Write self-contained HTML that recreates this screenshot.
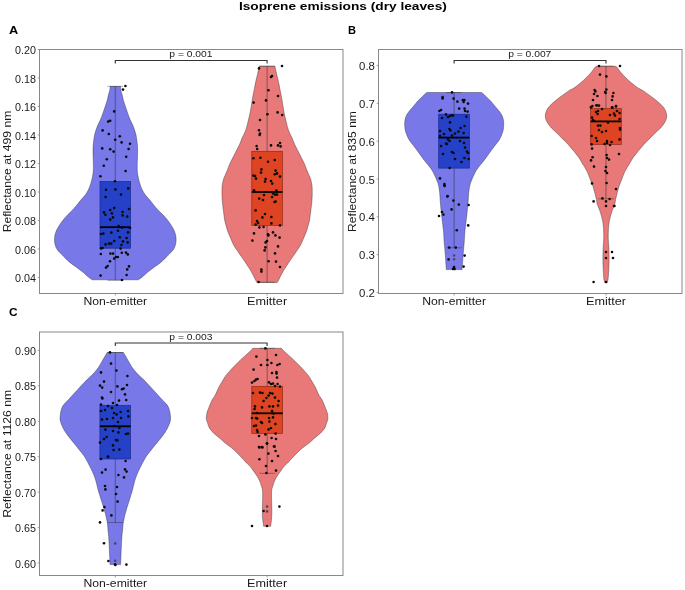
<!DOCTYPE html><html><head><meta charset="utf-8"><style>html,body{margin:0;padding:0;background:#fff;}svg{display:block;}text{font-family:"Liberation Sans",sans-serif;fill:#1a1a1a;}</style></head><body>
<svg width="685" height="590" viewBox="0 0 685 590">
<rect x="0" y="0" width="685" height="590" fill="#fff"/>
<path d="M110.10,86.50 C110.03,87.18 109.98,89.18 109.70,90.60 C109.42,92.02 108.80,93.43 108.40,95.00 C108.00,96.57 107.75,98.33 107.30,100.00 C106.85,101.67 106.25,103.33 105.70,105.00 C105.15,106.67 104.57,108.33 104.00,110.00 C103.43,111.67 102.92,113.33 102.30,115.00 C101.68,116.67 101.03,118.33 100.30,120.00 C99.57,121.67 98.62,123.33 97.90,125.00 C97.18,126.67 96.55,128.33 96.00,130.00 C95.45,131.67 94.97,133.33 94.60,135.00 C94.23,136.67 94.05,138.10 93.80,140.00 C93.55,141.90 93.23,144.23 93.10,146.40 C92.97,148.57 92.98,150.90 93.00,153.00 C93.02,155.10 93.13,156.90 93.20,159.00 C93.27,161.10 93.40,163.40 93.40,165.60 C93.40,167.80 93.38,170.22 93.20,172.20 C93.02,174.18 92.63,175.85 92.30,177.50 C91.97,179.15 91.57,180.78 91.20,182.10 C90.83,183.42 90.58,184.08 90.10,185.40 C89.62,186.72 89.12,188.40 88.30,190.00 C87.48,191.60 86.45,193.33 85.20,195.00 C83.95,196.67 82.18,198.33 80.80,200.00 C79.42,201.67 78.27,203.33 76.90,205.00 C75.53,206.67 74.17,208.33 72.60,210.00 C71.03,211.67 69.08,213.33 67.50,215.00 C65.92,216.67 64.42,218.33 63.10,220.00 C61.78,221.67 60.67,223.33 59.60,225.00 C58.53,226.67 57.47,228.33 56.70,230.00 C55.93,231.67 55.37,233.33 55.00,235.00 C54.63,236.67 54.47,238.33 54.50,240.00 C54.53,241.67 54.70,243.33 55.20,245.00 C55.70,246.67 56.32,248.33 57.50,250.00 C58.68,251.67 60.70,253.33 62.30,255.00 C63.90,256.67 65.73,258.68 67.10,260.00 C68.47,261.32 69.00,261.73 70.50,262.90 C72.00,264.07 74.07,265.48 76.10,267.00 C78.13,268.52 80.65,270.33 82.70,272.00 C84.75,273.67 86.83,275.70 88.40,277.00 C89.97,278.30 91.48,279.33 92.10,279.80 L138.50,279.80 C139.12,279.33 140.63,278.30 142.20,277.00 C143.77,275.70 145.85,273.67 147.90,272.00 C149.95,270.33 152.47,268.52 154.50,267.00 C156.53,265.48 158.60,264.07 160.10,262.90 C161.60,261.73 162.13,261.32 163.50,260.00 C164.87,258.68 166.70,256.67 168.30,255.00 C169.90,253.33 171.92,251.67 173.10,250.00 C174.28,248.33 174.90,246.67 175.40,245.00 C175.90,243.33 176.07,241.67 176.10,240.00 C176.13,238.33 175.97,236.67 175.60,235.00 C175.23,233.33 174.67,231.67 173.90,230.00 C173.13,228.33 172.07,226.67 171.00,225.00 C169.93,223.33 168.82,221.67 167.50,220.00 C166.18,218.33 164.68,216.67 163.10,215.00 C161.52,213.33 159.57,211.67 158.00,210.00 C156.43,208.33 155.07,206.67 153.70,205.00 C152.33,203.33 151.18,201.67 149.80,200.00 C148.42,198.33 146.65,196.67 145.40,195.00 C144.15,193.33 143.12,191.60 142.30,190.00 C141.48,188.40 140.98,186.72 140.50,185.40 C140.02,184.08 139.77,183.42 139.40,182.10 C139.03,180.78 138.63,179.15 138.30,177.50 C137.97,175.85 137.58,174.18 137.40,172.20 C137.22,170.22 137.20,167.80 137.20,165.60 C137.20,163.40 137.33,161.10 137.40,159.00 C137.47,156.90 137.58,155.10 137.60,153.00 C137.62,150.90 137.63,148.57 137.50,146.40 C137.37,144.23 137.05,141.90 136.80,140.00 C136.55,138.10 136.37,136.67 136.00,135.00 C135.63,133.33 135.15,131.67 134.60,130.00 C134.05,128.33 133.42,126.67 132.70,125.00 C131.98,123.33 131.03,121.67 130.30,120.00 C129.57,118.33 128.92,116.67 128.30,115.00 C127.68,113.33 127.17,111.67 126.60,110.00 C126.03,108.33 125.45,106.67 124.90,105.00 C124.35,103.33 123.75,101.67 123.30,100.00 C122.85,98.33 122.60,96.57 122.20,95.00 C121.80,93.43 121.18,92.02 120.90,90.60 C120.62,89.18 120.57,87.18 120.50,86.50 Z" fill="#7878e9" stroke="#262626" stroke-width="0.65" stroke-opacity="0.60"/>
<path d="M259.20,66.30 C259.13,66.68 259.12,67.12 258.80,68.60 C258.48,70.08 257.82,73.00 257.30,75.20 C256.78,77.40 256.18,79.60 255.70,81.80 C255.22,84.00 254.83,86.20 254.40,88.40 C253.97,90.60 253.47,93.07 253.10,95.00 C252.73,96.93 252.52,98.07 252.20,100.00 C251.88,101.93 251.57,104.40 251.20,106.60 C250.83,108.80 250.45,111.00 250.00,113.20 C249.55,115.40 249.02,117.60 248.50,119.80 C247.98,122.00 247.55,124.20 246.90,126.40 C246.25,128.60 245.40,131.07 244.60,133.00 C243.80,134.93 242.95,136.07 242.10,138.00 C241.25,139.93 240.50,142.40 239.50,144.60 C238.50,146.80 237.22,149.00 236.10,151.20 C234.98,153.40 233.90,155.60 232.80,157.80 C231.70,160.00 230.47,162.20 229.50,164.40 C228.53,166.60 227.78,169.07 227.00,171.00 C226.22,172.93 225.42,174.50 224.80,176.00 C224.18,177.50 223.72,178.50 223.30,180.00 C222.88,181.50 222.52,183.47 222.30,185.00 C222.08,186.53 222.05,187.40 222.00,189.20 C221.95,191.00 221.93,193.60 222.00,195.80 C222.07,198.00 222.20,200.20 222.40,202.40 C222.60,204.60 222.95,206.98 223.20,209.00 C223.45,211.02 223.67,212.67 223.90,214.50 C224.13,216.33 224.27,218.25 224.60,220.00 C224.93,221.75 225.45,223.33 225.90,225.00 C226.35,226.67 226.75,228.33 227.30,230.00 C227.85,231.67 228.52,233.33 229.20,235.00 C229.88,236.67 230.67,238.33 231.40,240.00 C232.13,241.67 232.68,243.33 233.60,245.00 C234.52,246.67 235.62,248.07 236.90,250.00 C238.18,251.93 239.80,254.40 241.30,256.60 C242.80,258.80 244.42,261.00 245.90,263.20 C247.38,265.40 248.88,267.60 250.20,269.80 C251.52,272.00 252.82,274.52 253.80,276.40 C254.78,278.28 255.60,280.10 256.10,281.10 C256.60,282.10 256.68,282.18 256.80,282.40 L277.40,282.40 C277.52,282.18 277.60,282.10 278.10,281.10 C278.60,280.10 279.42,278.28 280.40,276.40 C281.38,274.52 282.68,272.00 284.00,269.80 C285.32,267.60 286.82,265.40 288.30,263.20 C289.78,261.00 291.40,258.80 292.90,256.60 C294.40,254.40 296.02,251.93 297.30,250.00 C298.58,248.07 299.68,246.67 300.60,245.00 C301.52,243.33 302.07,241.67 302.80,240.00 C303.53,238.33 304.32,236.67 305.00,235.00 C305.68,233.33 306.35,231.67 306.90,230.00 C307.45,228.33 307.85,226.67 308.30,225.00 C308.75,223.33 309.27,221.75 309.60,220.00 C309.93,218.25 310.07,216.33 310.30,214.50 C310.53,212.67 310.75,211.02 311.00,209.00 C311.25,206.98 311.60,204.60 311.80,202.40 C312.00,200.20 312.13,198.00 312.20,195.80 C312.27,193.60 312.25,191.00 312.20,189.20 C312.15,187.40 312.12,186.53 311.90,185.00 C311.68,183.47 311.32,181.50 310.90,180.00 C310.48,178.50 310.02,177.50 309.40,176.00 C308.78,174.50 307.98,172.93 307.20,171.00 C306.42,169.07 305.67,166.60 304.70,164.40 C303.73,162.20 302.50,160.00 301.40,157.80 C300.30,155.60 299.22,153.40 298.10,151.20 C296.98,149.00 295.70,146.80 294.70,144.60 C293.70,142.40 292.95,139.93 292.10,138.00 C291.25,136.07 290.40,134.93 289.60,133.00 C288.80,131.07 287.95,128.60 287.30,126.40 C286.65,124.20 286.22,122.00 285.70,119.80 C285.18,117.60 284.65,115.40 284.20,113.20 C283.75,111.00 283.37,108.80 283.00,106.60 C282.63,104.40 282.32,101.93 282.00,100.00 C281.68,98.07 281.47,96.93 281.10,95.00 C280.73,93.07 280.23,90.60 279.80,88.40 C279.37,86.20 278.98,84.00 278.50,81.80 C278.02,79.60 277.42,77.40 276.90,75.20 C276.38,73.00 275.72,70.08 275.40,68.60 C275.08,67.12 275.07,66.68 275.00,66.30 Z" fill="#e97878" stroke="#262626" stroke-width="0.65" stroke-opacity="0.60"/>
<line x1="115.30" y1="86.30" x2="115.30" y2="181.40" stroke="#262626" stroke-width="0.95" stroke-opacity="0.50"/>
<line x1="115.30" y1="248.20" x2="115.30" y2="280.30" stroke="#262626" stroke-width="0.95" stroke-opacity="0.50"/>
<line x1="107.50" y1="86.30" x2="123.10" y2="86.30" stroke="#262626" stroke-width="0.90" stroke-opacity="0.45"/>
<line x1="107.50" y1="280.30" x2="123.10" y2="280.30" stroke="#262626" stroke-width="0.90" stroke-opacity="0.45"/>
<rect x="100.00" y="181.40" width="30.60" height="66.80" fill="#2541c8" stroke="#1a2a90" stroke-width="0.70"/>
<line x1="100.00" y1="227.20" x2="130.60" y2="227.20" stroke="#000" stroke-width="1.80"/>
<line x1="267.10" y1="66.20" x2="267.10" y2="151.30" stroke="#262626" stroke-width="0.95" stroke-opacity="0.50"/>
<line x1="267.10" y1="225.50" x2="267.10" y2="282.30" stroke="#262626" stroke-width="0.95" stroke-opacity="0.50"/>
<line x1="259.30" y1="66.20" x2="274.90" y2="66.20" stroke="#262626" stroke-width="0.90" stroke-opacity="0.45"/>
<line x1="259.30" y1="282.30" x2="274.90" y2="282.30" stroke="#262626" stroke-width="0.90" stroke-opacity="0.45"/>
<rect x="251.80" y="151.30" width="30.60" height="74.20" fill="#de4422" stroke="#902a14" stroke-width="0.70"/>
<line x1="251.80" y1="192.00" x2="282.40" y2="192.00" stroke="#000" stroke-width="1.80"/>
<circle cx="125.4" cy="86.0" r="1.30" fill="#0a0a0a"/>
<circle cx="123.0" cy="89.6" r="1.30" fill="#0a0a0a"/>
<circle cx="114.2" cy="111.4" r="1.30" fill="#0a0a0a"/>
<circle cx="108.2" cy="121.6" r="1.30" fill="#0a0a0a"/>
<circle cx="110.2" cy="120.8" r="1.30" fill="#0a0a0a"/>
<circle cx="102.6" cy="130.4" r="1.30" fill="#0a0a0a"/>
<circle cx="108.8" cy="134.0" r="1.30" fill="#0a0a0a"/>
<circle cx="119.8" cy="136.2" r="1.30" fill="#0a0a0a"/>
<circle cx="115.2" cy="139.8" r="1.30" fill="#0a0a0a"/>
<circle cx="121.6" cy="142.4" r="1.30" fill="#0a0a0a"/>
<circle cx="130.0" cy="143.8" r="1.30" fill="#0a0a0a"/>
<circle cx="102.2" cy="148.4" r="1.30" fill="#0a0a0a"/>
<circle cx="110.2" cy="149.2" r="1.30" fill="#0a0a0a"/>
<circle cx="113.6" cy="151.6" r="1.30" fill="#0a0a0a"/>
<circle cx="128.6" cy="149.0" r="1.30" fill="#0a0a0a"/>
<circle cx="126.2" cy="156.8" r="1.30" fill="#0a0a0a"/>
<circle cx="106.8" cy="159.2" r="1.30" fill="#0a0a0a"/>
<circle cx="103.8" cy="165.8" r="1.30" fill="#0a0a0a"/>
<circle cx="125.6" cy="171.0" r="1.30" fill="#0a0a0a"/>
<circle cx="100.4" cy="176.2" r="1.30" fill="#0a0a0a"/>
<circle cx="115.0" cy="181.2" r="1.30" fill="#0a0a0a"/>
<circle cx="106.0" cy="189.8" r="1.30" fill="#0a0a0a"/>
<circle cx="115.4" cy="189.4" r="1.30" fill="#0a0a0a"/>
<circle cx="128.2" cy="188.4" r="1.30" fill="#0a0a0a"/>
<circle cx="121.0" cy="194.6" r="1.30" fill="#0a0a0a"/>
<circle cx="105.6" cy="197.0" r="1.30" fill="#0a0a0a"/>
<circle cx="110.2" cy="210.0" r="1.30" fill="#0a0a0a"/>
<circle cx="114.2" cy="208.0" r="1.30" fill="#0a0a0a"/>
<circle cx="104.0" cy="212.4" r="1.30" fill="#0a0a0a"/>
<circle cx="105.4" cy="214.8" r="1.30" fill="#0a0a0a"/>
<circle cx="111.8" cy="213.4" r="1.30" fill="#0a0a0a"/>
<circle cx="122.6" cy="212.0" r="1.30" fill="#0a0a0a"/>
<circle cx="122.6" cy="215.4" r="1.30" fill="#0a0a0a"/>
<circle cx="129.0" cy="209.0" r="1.30" fill="#0a0a0a"/>
<circle cx="127.2" cy="216.6" r="1.30" fill="#0a0a0a"/>
<circle cx="110.2" cy="219.6" r="1.30" fill="#0a0a0a"/>
<circle cx="113.0" cy="217.4" r="1.30" fill="#0a0a0a"/>
<circle cx="118.6" cy="226.0" r="1.30" fill="#0a0a0a"/>
<circle cx="122.0" cy="227.6" r="1.30" fill="#0a0a0a"/>
<circle cx="130.0" cy="228.0" r="1.30" fill="#0a0a0a"/>
<circle cx="101.0" cy="234.0" r="1.30" fill="#0a0a0a"/>
<circle cx="103.4" cy="233.6" r="1.30" fill="#0a0a0a"/>
<circle cx="111.4" cy="232.6" r="1.30" fill="#0a0a0a"/>
<circle cx="118.0" cy="230.8" r="1.30" fill="#0a0a0a"/>
<circle cx="128.0" cy="232.4" r="1.30" fill="#0a0a0a"/>
<circle cx="119.8" cy="237.2" r="1.30" fill="#0a0a0a"/>
<circle cx="126.6" cy="238.0" r="1.30" fill="#0a0a0a"/>
<circle cx="114.2" cy="241.0" r="1.30" fill="#0a0a0a"/>
<circle cx="109.0" cy="243.6" r="1.30" fill="#0a0a0a"/>
<circle cx="111.2" cy="243.6" r="1.30" fill="#0a0a0a"/>
<circle cx="105.6" cy="244.4" r="1.30" fill="#0a0a0a"/>
<circle cx="121.4" cy="245.0" r="1.30" fill="#0a0a0a"/>
<circle cx="123.0" cy="241.4" r="1.30" fill="#0a0a0a"/>
<circle cx="127.6" cy="242.4" r="1.30" fill="#0a0a0a"/>
<circle cx="101.0" cy="248.4" r="1.30" fill="#0a0a0a"/>
<circle cx="102.6" cy="248.0" r="1.30" fill="#0a0a0a"/>
<circle cx="120.6" cy="248.6" r="1.30" fill="#0a0a0a"/>
<circle cx="100.8" cy="254.0" r="1.30" fill="#0a0a0a"/>
<circle cx="110.4" cy="253.6" r="1.30" fill="#0a0a0a"/>
<circle cx="113.0" cy="253.6" r="1.30" fill="#0a0a0a"/>
<circle cx="121.8" cy="252.8" r="1.30" fill="#0a0a0a"/>
<circle cx="126.0" cy="252.6" r="1.30" fill="#0a0a0a"/>
<circle cx="127.8" cy="254.4" r="1.30" fill="#0a0a0a"/>
<circle cx="116.0" cy="257.0" r="1.30" fill="#0a0a0a"/>
<circle cx="117.8" cy="257.0" r="1.30" fill="#0a0a0a"/>
<circle cx="114.2" cy="258.6" r="1.30" fill="#0a0a0a"/>
<circle cx="110.0" cy="261.2" r="1.30" fill="#0a0a0a"/>
<circle cx="106.0" cy="267.6" r="1.30" fill="#0a0a0a"/>
<circle cx="107.6" cy="266.0" r="1.30" fill="#0a0a0a"/>
<circle cx="129.0" cy="266.4" r="1.30" fill="#0a0a0a"/>
<circle cx="127.2" cy="269.4" r="1.30" fill="#0a0a0a"/>
<circle cx="100.6" cy="275.6" r="1.30" fill="#0a0a0a"/>
<circle cx="126.6" cy="275.0" r="1.30" fill="#0a0a0a"/>
<circle cx="122.0" cy="280.0" r="1.30" fill="#0a0a0a"/>
<circle cx="259.0" cy="68.4" r="1.30" fill="#0a0a0a"/>
<circle cx="282.0" cy="66.0" r="1.30" fill="#0a0a0a"/>
<circle cx="271.0" cy="77.0" r="1.30" fill="#0a0a0a"/>
<circle cx="272.0" cy="76.0" r="1.30" fill="#0a0a0a"/>
<circle cx="268.4" cy="90.2" r="1.30" fill="#0a0a0a"/>
<circle cx="278.0" cy="96.0" r="1.30" fill="#0a0a0a"/>
<circle cx="253.6" cy="102.6" r="1.30" fill="#0a0a0a"/>
<circle cx="266.0" cy="100.4" r="1.30" fill="#0a0a0a"/>
<circle cx="267.4" cy="114.2" r="1.30" fill="#0a0a0a"/>
<circle cx="277.6" cy="112.4" r="1.30" fill="#0a0a0a"/>
<circle cx="282.2" cy="115.0" r="1.30" fill="#0a0a0a"/>
<circle cx="260.0" cy="120.0" r="1.30" fill="#0a0a0a"/>
<circle cx="259.0" cy="130.2" r="1.30" fill="#0a0a0a"/>
<circle cx="260.0" cy="133.6" r="1.30" fill="#0a0a0a"/>
<circle cx="259.6" cy="135.0" r="1.30" fill="#0a0a0a"/>
<circle cx="256.6" cy="146.0" r="1.30" fill="#0a0a0a"/>
<circle cx="257.2" cy="149.0" r="1.30" fill="#0a0a0a"/>
<circle cx="271.0" cy="145.4" r="1.30" fill="#0a0a0a"/>
<circle cx="278.0" cy="145.4" r="1.30" fill="#0a0a0a"/>
<circle cx="280.0" cy="143.0" r="1.30" fill="#0a0a0a"/>
<circle cx="280.6" cy="146.4" r="1.30" fill="#0a0a0a"/>
<circle cx="253.4" cy="158.2" r="1.30" fill="#0a0a0a"/>
<circle cx="260.4" cy="157.8" r="1.30" fill="#0a0a0a"/>
<circle cx="268.0" cy="161.8" r="1.30" fill="#0a0a0a"/>
<circle cx="274.8" cy="160.0" r="1.30" fill="#0a0a0a"/>
<circle cx="261.4" cy="169.4" r="1.30" fill="#0a0a0a"/>
<circle cx="275.6" cy="170.6" r="1.30" fill="#0a0a0a"/>
<circle cx="261.0" cy="172.6" r="1.30" fill="#0a0a0a"/>
<circle cx="277.0" cy="173.4" r="1.30" fill="#0a0a0a"/>
<circle cx="274.8" cy="174.2" r="1.30" fill="#0a0a0a"/>
<circle cx="280.0" cy="176.6" r="1.30" fill="#0a0a0a"/>
<circle cx="253.4" cy="175.6" r="1.30" fill="#0a0a0a"/>
<circle cx="255.0" cy="176.0" r="1.30" fill="#0a0a0a"/>
<circle cx="256.0" cy="178.6" r="1.30" fill="#0a0a0a"/>
<circle cx="265.6" cy="179.0" r="1.30" fill="#0a0a0a"/>
<circle cx="265.0" cy="181.6" r="1.30" fill="#0a0a0a"/>
<circle cx="271.0" cy="181.0" r="1.30" fill="#0a0a0a"/>
<circle cx="272.2" cy="183.6" r="1.30" fill="#0a0a0a"/>
<circle cx="254.0" cy="190.4" r="1.30" fill="#0a0a0a"/>
<circle cx="276.4" cy="190.6" r="1.30" fill="#0a0a0a"/>
<circle cx="273.0" cy="193.4" r="1.30" fill="#0a0a0a"/>
<circle cx="275.0" cy="194.6" r="1.30" fill="#0a0a0a"/>
<circle cx="277.0" cy="194.6" r="1.30" fill="#0a0a0a"/>
<circle cx="264.0" cy="195.0" r="1.30" fill="#0a0a0a"/>
<circle cx="272.0" cy="197.0" r="1.30" fill="#0a0a0a"/>
<circle cx="259.2" cy="198.6" r="1.30" fill="#0a0a0a"/>
<circle cx="263.0" cy="200.0" r="1.30" fill="#0a0a0a"/>
<circle cx="274.6" cy="202.0" r="1.30" fill="#0a0a0a"/>
<circle cx="275.6" cy="201.6" r="1.30" fill="#0a0a0a"/>
<circle cx="255.6" cy="210.4" r="1.30" fill="#0a0a0a"/>
<circle cx="265.0" cy="214.0" r="1.30" fill="#0a0a0a"/>
<circle cx="262.4" cy="217.4" r="1.30" fill="#0a0a0a"/>
<circle cx="271.4" cy="217.0" r="1.30" fill="#0a0a0a"/>
<circle cx="257.0" cy="221.0" r="1.30" fill="#0a0a0a"/>
<circle cx="258.0" cy="223.0" r="1.30" fill="#0a0a0a"/>
<circle cx="255.6" cy="224.6" r="1.30" fill="#0a0a0a"/>
<circle cx="271.4" cy="223.4" r="1.30" fill="#0a0a0a"/>
<circle cx="259.4" cy="227.4" r="1.30" fill="#0a0a0a"/>
<circle cx="263.6" cy="227.0" r="1.30" fill="#0a0a0a"/>
<circle cx="280.0" cy="225.4" r="1.30" fill="#0a0a0a"/>
<circle cx="254.0" cy="233.4" r="1.30" fill="#0a0a0a"/>
<circle cx="268.0" cy="234.4" r="1.30" fill="#0a0a0a"/>
<circle cx="268.4" cy="235.4" r="1.30" fill="#0a0a0a"/>
<circle cx="273.0" cy="232.4" r="1.30" fill="#0a0a0a"/>
<circle cx="275.4" cy="235.4" r="1.30" fill="#0a0a0a"/>
<circle cx="279.6" cy="237.6" r="1.30" fill="#0a0a0a"/>
<circle cx="252.4" cy="240.6" r="1.30" fill="#0a0a0a"/>
<circle cx="267.0" cy="241.0" r="1.30" fill="#0a0a0a"/>
<circle cx="265.6" cy="242.4" r="1.30" fill="#0a0a0a"/>
<circle cx="265.4" cy="247.4" r="1.30" fill="#0a0a0a"/>
<circle cx="264.6" cy="250.4" r="1.30" fill="#0a0a0a"/>
<circle cx="278.0" cy="246.4" r="1.30" fill="#0a0a0a"/>
<circle cx="275.0" cy="253.4" r="1.30" fill="#0a0a0a"/>
<circle cx="268.6" cy="261.2" r="1.30" fill="#0a0a0a"/>
<circle cx="276.0" cy="261.6" r="1.30" fill="#0a0a0a"/>
<circle cx="280.0" cy="267.0" r="1.30" fill="#0a0a0a"/>
<circle cx="261.4" cy="269.6" r="1.30" fill="#0a0a0a"/>
<circle cx="261.4" cy="271.6" r="1.30" fill="#0a0a0a"/>
<circle cx="258.6" cy="282.0" r="1.30" fill="#0a0a0a"/>
<rect x="39.50" y="49.50" width="303.50" height="244.00" fill="none" stroke="#888" stroke-width="1"/>
<line x1="37.70" y1="277.50" x2="39.50" y2="277.50" stroke="#888" stroke-width="0.8"/>
<line x1="37.70" y1="249.00" x2="39.50" y2="249.00" stroke="#888" stroke-width="0.8"/>
<line x1="37.70" y1="220.50" x2="39.50" y2="220.50" stroke="#888" stroke-width="0.8"/>
<line x1="37.70" y1="192.00" x2="39.50" y2="192.00" stroke="#888" stroke-width="0.8"/>
<line x1="37.70" y1="163.50" x2="39.50" y2="163.50" stroke="#888" stroke-width="0.8"/>
<line x1="37.70" y1="135.00" x2="39.50" y2="135.00" stroke="#888" stroke-width="0.8"/>
<line x1="37.70" y1="106.50" x2="39.50" y2="106.50" stroke="#888" stroke-width="0.8"/>
<line x1="37.70" y1="78.00" x2="39.50" y2="78.00" stroke="#888" stroke-width="0.8"/>
<line x1="37.70" y1="49.50" x2="39.50" y2="49.50" stroke="#888" stroke-width="0.8"/>
<line x1="115.30" y1="293.50" x2="115.30" y2="295.50" stroke="#888" stroke-width="0.8"/>
<line x1="267.10" y1="293.50" x2="267.10" y2="295.50" stroke="#888" stroke-width="0.8"/>
<path d="M115.30,63.50 L115.30,60.50 L267.10,60.50 L267.10,63.50" fill="none" stroke="#333" stroke-width="1.10"/>
<path d="M426.80,92.50 C426.32,92.92 424.88,94.08 423.90,95.00 C422.92,95.92 421.93,97.00 420.90,98.00 C419.87,99.00 418.77,99.83 417.70,101.00 C416.63,102.17 415.75,103.50 414.50,105.00 C413.25,106.50 411.52,108.33 410.20,110.00 C408.88,111.67 407.47,113.33 406.60,115.00 C405.73,116.67 405.32,118.33 405.00,120.00 C404.68,121.67 404.67,123.33 404.70,125.00 C404.73,126.67 404.85,128.33 405.20,130.00 C405.55,131.67 406.13,133.33 406.80,135.00 C407.47,136.67 408.17,138.33 409.20,140.00 C410.23,141.67 411.73,143.33 413.00,145.00 C414.27,146.67 415.57,148.33 416.80,150.00 C418.03,151.67 419.20,153.33 420.40,155.00 C421.60,156.67 422.72,158.33 424.00,160.00 C425.28,161.67 426.78,163.33 428.10,165.00 C429.42,166.67 430.83,168.33 431.90,170.00 C432.97,171.67 433.70,173.33 434.50,175.00 C435.30,176.67 436.13,178.65 436.70,180.00 C437.27,181.35 437.55,182.03 437.90,183.10 C438.25,184.17 438.57,185.30 438.80,186.40 C439.03,187.50 439.15,188.60 439.30,189.70 C439.45,190.80 439.57,191.45 439.70,193.00 C439.83,194.55 439.97,197.07 440.10,199.00 C440.23,200.93 440.32,202.57 440.50,204.60 C440.68,206.63 440.97,209.00 441.20,211.20 C441.43,213.40 441.65,215.60 441.90,217.80 C442.15,220.00 442.43,222.20 442.70,224.40 C442.97,226.60 443.30,228.90 443.50,231.00 C443.70,233.10 443.78,235.07 443.90,237.00 C444.02,238.93 444.05,240.57 444.20,242.60 C444.35,244.63 444.60,247.00 444.80,249.20 C445.00,251.40 445.23,253.60 445.40,255.80 C445.57,258.00 445.65,260.20 445.80,262.40 C445.95,264.60 446.20,267.80 446.30,269.00 C446.40,270.20 446.38,269.50 446.40,269.60 L462.00,269.60 C462.02,269.50 462.00,270.20 462.10,269.00 C462.20,267.80 462.45,264.60 462.60,262.40 C462.75,260.20 462.83,258.00 463.00,255.80 C463.17,253.60 463.40,251.40 463.60,249.20 C463.80,247.00 464.05,244.63 464.20,242.60 C464.35,240.57 464.38,238.93 464.50,237.00 C464.62,235.07 464.70,233.10 464.90,231.00 C465.10,228.90 465.43,226.60 465.70,224.40 C465.97,222.20 466.25,220.00 466.50,217.80 C466.75,215.60 466.97,213.40 467.20,211.20 C467.43,209.00 467.72,206.63 467.90,204.60 C468.08,202.57 468.17,200.93 468.30,199.00 C468.43,197.07 468.57,194.55 468.70,193.00 C468.83,191.45 468.95,190.80 469.10,189.70 C469.25,188.60 469.37,187.50 469.60,186.40 C469.83,185.30 470.15,184.17 470.50,183.10 C470.85,182.03 471.13,181.35 471.70,180.00 C472.27,178.65 473.10,176.67 473.90,175.00 C474.70,173.33 475.43,171.67 476.50,170.00 C477.57,168.33 478.98,166.67 480.30,165.00 C481.62,163.33 483.12,161.67 484.40,160.00 C485.68,158.33 486.80,156.67 488.00,155.00 C489.20,153.33 490.37,151.67 491.60,150.00 C492.83,148.33 494.13,146.67 495.40,145.00 C496.67,143.33 498.17,141.67 499.20,140.00 C500.23,138.33 500.93,136.67 501.60,135.00 C502.27,133.33 502.85,131.67 503.20,130.00 C503.55,128.33 503.67,126.67 503.70,125.00 C503.73,123.33 503.72,121.67 503.40,120.00 C503.08,118.33 502.67,116.67 501.80,115.00 C500.93,113.33 499.52,111.67 498.20,110.00 C496.88,108.33 495.15,106.50 493.90,105.00 C492.65,103.50 491.77,102.17 490.70,101.00 C489.63,99.83 488.53,99.00 487.50,98.00 C486.47,97.00 485.48,95.92 484.50,95.00 C483.52,94.08 482.08,92.92 481.60,92.50 Z" fill="#7878e9" stroke="#262626" stroke-width="0.65" stroke-opacity="0.60"/>
<path d="M596.10,66.30 C595.83,66.58 595.40,66.88 594.50,68.00 C593.60,69.12 592.12,71.33 590.70,73.00 C589.28,74.67 587.72,76.33 586.00,78.00 C584.28,79.67 582.42,81.33 580.40,83.00 C578.38,84.67 575.75,86.77 573.90,88.00 C572.05,89.23 570.90,89.40 569.30,90.40 C567.70,91.40 566.05,92.73 564.30,94.00 C562.55,95.27 560.73,96.50 558.80,98.00 C556.87,99.50 554.50,101.33 552.70,103.00 C550.90,104.67 549.17,106.33 548.00,108.00 C546.83,109.67 546.12,111.33 545.70,113.00 C545.28,114.67 545.18,116.33 545.50,118.00 C545.82,119.67 546.62,121.33 547.60,123.00 C548.58,124.67 550.17,126.62 551.40,128.00 C552.63,129.38 553.85,130.20 555.00,131.30 C556.15,132.40 557.20,133.50 558.30,134.60 C559.40,135.70 560.47,136.80 561.60,137.90 C562.73,139.00 564.00,140.10 565.10,141.20 C566.20,142.30 567.22,143.40 568.20,144.50 C569.18,145.60 570.07,146.70 571.00,147.80 C571.93,148.90 572.90,150.00 573.80,151.10 C574.70,152.20 575.53,153.30 576.40,154.40 C577.27,155.50 578.23,156.60 579.00,157.70 C579.77,158.80 580.35,159.88 581.00,161.00 C581.65,162.12 582.40,163.57 582.90,164.40 C583.40,165.23 583.22,164.63 584.00,166.00 C584.78,167.37 586.57,170.40 587.60,172.60 C588.63,174.80 589.33,177.00 590.20,179.20 C591.07,181.40 592.05,183.60 592.80,185.80 C593.55,188.00 594.12,190.20 594.70,192.40 C595.28,194.60 595.88,197.07 596.30,199.00 C596.72,200.93 596.65,202.15 597.20,204.00 C597.75,205.85 598.88,208.07 599.60,210.10 C600.33,212.13 601.01,214.17 601.55,216.20 C602.09,218.23 602.52,220.27 602.85,222.30 C603.18,224.33 603.40,226.37 603.55,228.40 C603.70,230.43 603.73,232.57 603.75,234.50 C603.77,236.43 603.80,237.73 603.70,240.00 C603.60,242.27 603.28,245.38 603.15,248.10 C603.02,250.82 602.92,253.58 602.90,256.30 C602.88,259.02 602.92,261.68 603.00,264.40 C603.08,267.12 603.25,270.15 603.40,272.60 C603.55,275.05 603.67,277.43 603.90,279.10 C604.13,280.77 604.65,282.02 604.80,282.60 L607.20,282.60 C607.35,282.02 607.87,280.77 608.10,279.10 C608.33,277.43 608.45,275.05 608.60,272.60 C608.75,270.15 608.92,267.12 609.00,264.40 C609.08,261.68 609.12,259.02 609.10,256.30 C609.08,253.58 608.98,250.82 608.85,248.10 C608.72,245.38 608.40,242.27 608.30,240.00 C608.20,237.73 608.23,236.43 608.25,234.50 C608.27,232.57 608.30,230.43 608.45,228.40 C608.60,226.37 608.82,224.33 609.15,222.30 C609.48,220.27 609.91,218.23 610.45,216.20 C610.99,214.17 611.67,212.13 612.40,210.10 C613.12,208.07 614.25,205.85 614.80,204.00 C615.35,202.15 615.28,200.93 615.70,199.00 C616.12,197.07 616.72,194.60 617.30,192.40 C617.88,190.20 618.45,188.00 619.20,185.80 C619.95,183.60 620.93,181.40 621.80,179.20 C622.67,177.00 623.37,174.80 624.40,172.60 C625.43,170.40 627.22,167.37 628.00,166.00 C628.78,164.63 628.60,165.23 629.10,164.40 C629.60,163.57 630.35,162.12 631.00,161.00 C631.65,159.88 632.23,158.80 633.00,157.70 C633.77,156.60 634.73,155.50 635.60,154.40 C636.47,153.30 637.30,152.20 638.20,151.10 C639.10,150.00 640.07,148.90 641.00,147.80 C641.93,146.70 642.82,145.60 643.80,144.50 C644.78,143.40 645.80,142.30 646.90,141.20 C648.00,140.10 649.27,139.00 650.40,137.90 C651.53,136.80 652.60,135.70 653.70,134.60 C654.80,133.50 655.85,132.40 657.00,131.30 C658.15,130.20 659.37,129.38 660.60,128.00 C661.83,126.62 663.42,124.67 664.40,123.00 C665.38,121.33 666.18,119.67 666.50,118.00 C666.82,116.33 666.72,114.67 666.30,113.00 C665.88,111.33 665.17,109.67 664.00,108.00 C662.83,106.33 661.10,104.67 659.30,103.00 C657.50,101.33 655.13,99.50 653.20,98.00 C651.27,96.50 649.45,95.27 647.70,94.00 C645.95,92.73 644.30,91.40 642.70,90.40 C641.10,89.40 639.95,89.23 638.10,88.00 C636.25,86.77 633.62,84.67 631.60,83.00 C629.58,81.33 627.72,79.67 626.00,78.00 C624.28,76.33 622.72,74.67 621.30,73.00 C619.88,71.33 618.40,69.12 617.50,68.00 C616.60,66.88 616.17,66.58 615.90,66.30 Z" fill="#e97878" stroke="#262626" stroke-width="0.65" stroke-opacity="0.60"/>
<line x1="454.10" y1="92.50" x2="454.10" y2="114.20" stroke="#262626" stroke-width="0.95" stroke-opacity="0.50"/>
<line x1="454.10" y1="168.10" x2="454.10" y2="247.80" stroke="#262626" stroke-width="0.95" stroke-opacity="0.50"/>
<line x1="446.30" y1="92.50" x2="461.90" y2="92.50" stroke="#262626" stroke-width="0.90" stroke-opacity="0.45"/>
<line x1="446.30" y1="247.80" x2="461.90" y2="247.80" stroke="#262626" stroke-width="0.90" stroke-opacity="0.45"/>
<rect x="438.70" y="114.20" width="30.70" height="53.90" fill="#2541c8" stroke="#1a2a90" stroke-width="0.70"/>
<line x1="438.70" y1="137.60" x2="469.40" y2="137.60" stroke="#000" stroke-width="1.80"/>
<line x1="605.95" y1="66.20" x2="605.95" y2="108.50" stroke="#262626" stroke-width="0.95" stroke-opacity="0.50"/>
<line x1="605.95" y1="144.50" x2="605.95" y2="198.80" stroke="#262626" stroke-width="0.95" stroke-opacity="0.50"/>
<line x1="598.15" y1="66.20" x2="613.75" y2="66.20" stroke="#262626" stroke-width="0.90" stroke-opacity="0.45"/>
<line x1="598.15" y1="198.80" x2="613.75" y2="198.80" stroke="#262626" stroke-width="0.90" stroke-opacity="0.45"/>
<rect x="590.70" y="108.50" width="30.60" height="36.00" fill="#de4422" stroke="#902a14" stroke-width="0.70"/>
<line x1="590.70" y1="121.40" x2="621.30" y2="121.40" stroke="#000" stroke-width="1.80"/>
<circle cx="454.1" cy="255.5" r="1.3" fill="#4a4a60"/>
<circle cx="454.1" cy="259.3" r="1.3" fill="#4a4a60"/>
<circle cx="452.0" cy="92.4" r="1.30" fill="#0a0a0a"/>
<circle cx="442.6" cy="97.0" r="1.30" fill="#0a0a0a"/>
<circle cx="442.6" cy="98.4" r="1.30" fill="#0a0a0a"/>
<circle cx="453.6" cy="98.6" r="1.30" fill="#0a0a0a"/>
<circle cx="457.4" cy="101.6" r="1.30" fill="#0a0a0a"/>
<circle cx="462.8" cy="100.0" r="1.30" fill="#0a0a0a"/>
<circle cx="464.4" cy="100.0" r="1.30" fill="#0a0a0a"/>
<circle cx="463.6" cy="102.0" r="1.30" fill="#0a0a0a"/>
<circle cx="468.0" cy="103.6" r="1.30" fill="#0a0a0a"/>
<circle cx="459.2" cy="108.6" r="1.30" fill="#0a0a0a"/>
<circle cx="464.6" cy="108.6" r="1.30" fill="#0a0a0a"/>
<circle cx="465.0" cy="111.0" r="1.30" fill="#0a0a0a"/>
<circle cx="467.6" cy="111.6" r="1.30" fill="#0a0a0a"/>
<circle cx="439.4" cy="111.0" r="1.30" fill="#0a0a0a"/>
<circle cx="441.0" cy="110.0" r="1.30" fill="#0a0a0a"/>
<circle cx="446.0" cy="114.4" r="1.30" fill="#0a0a0a"/>
<circle cx="448.0" cy="117.0" r="1.30" fill="#0a0a0a"/>
<circle cx="450.0" cy="116.0" r="1.30" fill="#0a0a0a"/>
<circle cx="452.0" cy="115.0" r="1.30" fill="#0a0a0a"/>
<circle cx="453.0" cy="115.6" r="1.30" fill="#0a0a0a"/>
<circle cx="442.0" cy="118.0" r="1.30" fill="#0a0a0a"/>
<circle cx="466.4" cy="116.6" r="1.30" fill="#0a0a0a"/>
<circle cx="450.0" cy="122.4" r="1.30" fill="#0a0a0a"/>
<circle cx="464.6" cy="126.0" r="1.30" fill="#0a0a0a"/>
<circle cx="460.6" cy="128.0" r="1.30" fill="#0a0a0a"/>
<circle cx="449.4" cy="129.0" r="1.30" fill="#0a0a0a"/>
<circle cx="450.4" cy="130.4" r="1.30" fill="#0a0a0a"/>
<circle cx="440.0" cy="131.0" r="1.30" fill="#0a0a0a"/>
<circle cx="444.0" cy="134.0" r="1.30" fill="#0a0a0a"/>
<circle cx="458.4" cy="131.6" r="1.30" fill="#0a0a0a"/>
<circle cx="455.0" cy="133.6" r="1.30" fill="#0a0a0a"/>
<circle cx="463.6" cy="133.0" r="1.30" fill="#0a0a0a"/>
<circle cx="452.0" cy="135.6" r="1.30" fill="#0a0a0a"/>
<circle cx="440.0" cy="136.0" r="1.30" fill="#0a0a0a"/>
<circle cx="448.0" cy="139.4" r="1.30" fill="#0a0a0a"/>
<circle cx="449.6" cy="141.0" r="1.30" fill="#0a0a0a"/>
<circle cx="446.0" cy="143.6" r="1.30" fill="#0a0a0a"/>
<circle cx="447.0" cy="144.0" r="1.30" fill="#0a0a0a"/>
<circle cx="460.0" cy="141.0" r="1.30" fill="#0a0a0a"/>
<circle cx="464.0" cy="143.0" r="1.30" fill="#0a0a0a"/>
<circle cx="441.0" cy="146.0" r="1.30" fill="#0a0a0a"/>
<circle cx="465.0" cy="147.6" r="1.30" fill="#0a0a0a"/>
<circle cx="452.0" cy="152.0" r="1.30" fill="#0a0a0a"/>
<circle cx="453.4" cy="153.0" r="1.30" fill="#0a0a0a"/>
<circle cx="467.0" cy="151.6" r="1.30" fill="#0a0a0a"/>
<circle cx="468.0" cy="153.0" r="1.30" fill="#0a0a0a"/>
<circle cx="443.0" cy="154.0" r="1.30" fill="#0a0a0a"/>
<circle cx="455.0" cy="159.0" r="1.30" fill="#0a0a0a"/>
<circle cx="464.4" cy="158.0" r="1.30" fill="#0a0a0a"/>
<circle cx="468.6" cy="159.0" r="1.30" fill="#0a0a0a"/>
<circle cx="461.4" cy="162.0" r="1.30" fill="#0a0a0a"/>
<circle cx="449.6" cy="168.0" r="1.30" fill="#0a0a0a"/>
<circle cx="440.0" cy="178.4" r="1.30" fill="#0a0a0a"/>
<circle cx="444.4" cy="184.0" r="1.30" fill="#0a0a0a"/>
<circle cx="444.4" cy="185.6" r="1.30" fill="#0a0a0a"/>
<circle cx="447.6" cy="196.0" r="1.30" fill="#0a0a0a"/>
<circle cx="444.6" cy="186.0" r="1.30" fill="#0a0a0a"/>
<circle cx="447.4" cy="196.6" r="1.30" fill="#0a0a0a"/>
<circle cx="453.4" cy="200.6" r="1.30" fill="#0a0a0a"/>
<circle cx="458.8" cy="204.6" r="1.30" fill="#0a0a0a"/>
<circle cx="468.6" cy="205.0" r="1.30" fill="#0a0a0a"/>
<circle cx="451.6" cy="209.4" r="1.30" fill="#0a0a0a"/>
<circle cx="442.0" cy="212.0" r="1.30" fill="#0a0a0a"/>
<circle cx="443.4" cy="214.6" r="1.30" fill="#0a0a0a"/>
<circle cx="439.0" cy="216.0" r="1.30" fill="#0a0a0a"/>
<circle cx="468.2" cy="225.4" r="1.30" fill="#0a0a0a"/>
<circle cx="456.8" cy="230.2" r="1.30" fill="#0a0a0a"/>
<circle cx="449.2" cy="247.6" r="1.30" fill="#0a0a0a"/>
<circle cx="455.8" cy="247.6" r="1.30" fill="#0a0a0a"/>
<circle cx="448.6" cy="259.4" r="1.30" fill="#0a0a0a"/>
<circle cx="464.6" cy="255.6" r="1.30" fill="#0a0a0a"/>
<circle cx="463.6" cy="266.6" r="1.30" fill="#0a0a0a"/>
<circle cx="454.0" cy="267.0" r="1.30" fill="#0a0a0a"/>
<circle cx="453.0" cy="269.0" r="1.30" fill="#0a0a0a"/>
<circle cx="454.6" cy="269.0" r="1.30" fill="#0a0a0a"/>
<circle cx="599.0" cy="66.0" r="1.30" fill="#0a0a0a"/>
<circle cx="620.0" cy="66.0" r="1.30" fill="#0a0a0a"/>
<circle cx="600.0" cy="74.6" r="1.30" fill="#0a0a0a"/>
<circle cx="606.4" cy="76.4" r="1.30" fill="#0a0a0a"/>
<circle cx="594.6" cy="90.0" r="1.30" fill="#0a0a0a"/>
<circle cx="595.4" cy="91.4" r="1.30" fill="#0a0a0a"/>
<circle cx="594.0" cy="94.0" r="1.30" fill="#0a0a0a"/>
<circle cx="597.4" cy="96.0" r="1.30" fill="#0a0a0a"/>
<circle cx="605.2" cy="92.0" r="1.30" fill="#0a0a0a"/>
<circle cx="606.4" cy="89.6" r="1.30" fill="#0a0a0a"/>
<circle cx="605.6" cy="93.0" r="1.30" fill="#0a0a0a"/>
<circle cx="613.4" cy="93.0" r="1.30" fill="#0a0a0a"/>
<circle cx="612.6" cy="96.4" r="1.30" fill="#0a0a0a"/>
<circle cx="593.0" cy="100.0" r="1.30" fill="#0a0a0a"/>
<circle cx="612.0" cy="100.0" r="1.30" fill="#0a0a0a"/>
<circle cx="592.4" cy="106.0" r="1.30" fill="#0a0a0a"/>
<circle cx="596.6" cy="105.2" r="1.30" fill="#0a0a0a"/>
<circle cx="599.0" cy="105.6" r="1.30" fill="#0a0a0a"/>
<circle cx="612.0" cy="107.4" r="1.30" fill="#0a0a0a"/>
<circle cx="616.0" cy="106.4" r="1.30" fill="#0a0a0a"/>
<circle cx="591.0" cy="107.4" r="1.30" fill="#0a0a0a"/>
<circle cx="591.0" cy="107.0" r="1.30" fill="#0a0a0a"/>
<circle cx="596.6" cy="105.4" r="1.30" fill="#0a0a0a"/>
<circle cx="612.4" cy="107.6" r="1.30" fill="#0a0a0a"/>
<circle cx="616.0" cy="106.0" r="1.30" fill="#0a0a0a"/>
<circle cx="602.0" cy="109.0" r="1.30" fill="#0a0a0a"/>
<circle cx="596.0" cy="112.0" r="1.30" fill="#0a0a0a"/>
<circle cx="597.6" cy="114.0" r="1.30" fill="#0a0a0a"/>
<circle cx="598.0" cy="111.0" r="1.30" fill="#0a0a0a"/>
<circle cx="614.0" cy="113.6" r="1.30" fill="#0a0a0a"/>
<circle cx="617.0" cy="111.0" r="1.30" fill="#0a0a0a"/>
<circle cx="619.6" cy="113.0" r="1.30" fill="#0a0a0a"/>
<circle cx="615.0" cy="115.6" r="1.30" fill="#0a0a0a"/>
<circle cx="592.0" cy="117.6" r="1.30" fill="#0a0a0a"/>
<circle cx="593.0" cy="120.0" r="1.30" fill="#0a0a0a"/>
<circle cx="610.0" cy="115.0" r="1.30" fill="#0a0a0a"/>
<circle cx="619.6" cy="119.0" r="1.30" fill="#0a0a0a"/>
<circle cx="594.0" cy="121.0" r="1.30" fill="#0a0a0a"/>
<circle cx="608.0" cy="122.6" r="1.30" fill="#0a0a0a"/>
<circle cx="598.0" cy="125.6" r="1.30" fill="#0a0a0a"/>
<circle cx="600.4" cy="125.6" r="1.30" fill="#0a0a0a"/>
<circle cx="620.0" cy="128.0" r="1.30" fill="#0a0a0a"/>
<circle cx="620.0" cy="129.6" r="1.30" fill="#0a0a0a"/>
<circle cx="599.0" cy="130.0" r="1.30" fill="#0a0a0a"/>
<circle cx="602.0" cy="132.0" r="1.30" fill="#0a0a0a"/>
<circle cx="606.0" cy="131.0" r="1.30" fill="#0a0a0a"/>
<circle cx="591.6" cy="136.0" r="1.30" fill="#0a0a0a"/>
<circle cx="596.0" cy="138.0" r="1.30" fill="#0a0a0a"/>
<circle cx="597.0" cy="141.0" r="1.30" fill="#0a0a0a"/>
<circle cx="607.0" cy="141.0" r="1.30" fill="#0a0a0a"/>
<circle cx="607.0" cy="143.0" r="1.30" fill="#0a0a0a"/>
<circle cx="611.6" cy="142.0" r="1.30" fill="#0a0a0a"/>
<circle cx="619.6" cy="139.4" r="1.30" fill="#0a0a0a"/>
<circle cx="604.6" cy="144.0" r="1.30" fill="#0a0a0a"/>
<circle cx="610.0" cy="145.0" r="1.30" fill="#0a0a0a"/>
<circle cx="591.6" cy="144.4" r="1.30" fill="#0a0a0a"/>
<circle cx="592.0" cy="148.6" r="1.30" fill="#0a0a0a"/>
<circle cx="619.0" cy="154.0" r="1.30" fill="#0a0a0a"/>
<circle cx="592.6" cy="157.2" r="1.30" fill="#0a0a0a"/>
<circle cx="591.0" cy="160.4" r="1.30" fill="#0a0a0a"/>
<circle cx="606.6" cy="155.0" r="1.30" fill="#0a0a0a"/>
<circle cx="607.0" cy="158.0" r="1.30" fill="#0a0a0a"/>
<circle cx="609.0" cy="159.6" r="1.30" fill="#0a0a0a"/>
<circle cx="594.0" cy="166.6" r="1.30" fill="#0a0a0a"/>
<circle cx="606.0" cy="167.0" r="1.30" fill="#0a0a0a"/>
<circle cx="605.4" cy="171.0" r="1.30" fill="#0a0a0a"/>
<circle cx="607.0" cy="173.0" r="1.30" fill="#0a0a0a"/>
<circle cx="592.0" cy="183.4" r="1.30" fill="#0a0a0a"/>
<circle cx="606.6" cy="183.0" r="1.30" fill="#0a0a0a"/>
<circle cx="616.0" cy="189.0" r="1.30" fill="#0a0a0a"/>
<circle cx="602.4" cy="198.4" r="1.30" fill="#0a0a0a"/>
<circle cx="606.0" cy="201.4" r="1.30" fill="#0a0a0a"/>
<circle cx="593.6" cy="201.4" r="1.30" fill="#0a0a0a"/>
<circle cx="609.6" cy="199.0" r="1.30" fill="#0a0a0a"/>
<circle cx="606.0" cy="206.0" r="1.30" fill="#0a0a0a"/>
<circle cx="614.4" cy="206.0" r="1.30" fill="#0a0a0a"/>
<circle cx="614.0" cy="206.0" r="1.30" fill="#0a0a0a"/>
<circle cx="606.0" cy="252.0" r="1.30" fill="#0a0a0a"/>
<circle cx="612.0" cy="252.0" r="1.30" fill="#0a0a0a"/>
<circle cx="606.0" cy="258.0" r="1.30" fill="#0a0a0a"/>
<circle cx="613.0" cy="258.0" r="1.30" fill="#0a0a0a"/>
<circle cx="593.6" cy="282.0" r="1.30" fill="#0a0a0a"/>
<circle cx="606.0" cy="282.0" r="1.30" fill="#0a0a0a"/>
<rect x="378.50" y="49.50" width="303.50" height="244.00" fill="none" stroke="#888" stroke-width="1"/>
<line x1="376.70" y1="292.40" x2="378.50" y2="292.40" stroke="#888" stroke-width="0.8"/>
<line x1="376.70" y1="254.60" x2="378.50" y2="254.60" stroke="#888" stroke-width="0.8"/>
<line x1="376.70" y1="216.80" x2="378.50" y2="216.80" stroke="#888" stroke-width="0.8"/>
<line x1="376.70" y1="179.00" x2="378.50" y2="179.00" stroke="#888" stroke-width="0.8"/>
<line x1="376.70" y1="141.20" x2="378.50" y2="141.20" stroke="#888" stroke-width="0.8"/>
<line x1="376.70" y1="103.40" x2="378.50" y2="103.40" stroke="#888" stroke-width="0.8"/>
<line x1="376.70" y1="65.60" x2="378.50" y2="65.60" stroke="#888" stroke-width="0.8"/>
<line x1="454.10" y1="293.50" x2="454.10" y2="295.50" stroke="#888" stroke-width="0.8"/>
<line x1="606.00" y1="293.50" x2="606.00" y2="295.50" stroke="#888" stroke-width="0.8"/>
<path d="M454.10,63.50 L454.10,60.50 L606.00,60.50 L606.00,63.50" fill="none" stroke="#333" stroke-width="1.10"/>
<path d="M107.10,352.50 C106.87,352.92 106.42,353.75 105.70,355.00 C104.98,356.25 103.75,358.33 102.80,360.00 C101.85,361.67 101.05,363.33 100.00,365.00 C98.95,366.67 97.83,368.33 96.50,370.00 C95.17,371.67 93.65,373.33 92.00,375.00 C90.35,376.67 88.28,378.33 86.60,380.00 C84.92,381.67 83.45,383.33 81.90,385.00 C80.35,386.67 78.83,388.33 77.30,390.00 C75.77,391.67 74.22,393.33 72.70,395.00 C71.18,396.67 69.75,398.33 68.20,400.00 C66.65,401.67 64.57,403.33 63.40,405.00 C62.23,406.67 61.72,408.33 61.20,410.00 C60.68,411.67 60.48,413.33 60.30,415.00 C60.12,416.67 59.87,418.33 60.10,420.00 C60.33,421.67 61.03,423.33 61.70,425.00 C62.37,426.67 63.15,428.33 64.10,430.00 C65.05,431.67 66.20,433.33 67.40,435.00 C68.60,436.67 69.95,438.33 71.30,440.00 C72.65,441.67 74.15,443.33 75.50,445.00 C76.85,446.67 78.08,448.33 79.40,450.00 C80.72,451.67 82.22,453.33 83.40,455.00 C84.58,456.67 85.55,458.33 86.50,460.00 C87.45,461.67 88.15,463.13 89.10,465.00 C90.05,466.87 91.23,469.07 92.20,471.20 C93.17,473.33 94.13,475.60 94.90,477.80 C95.67,480.00 96.22,482.20 96.80,484.40 C97.38,486.60 97.92,489.23 98.40,491.00 C98.88,492.77 99.18,493.32 99.70,495.00 C100.22,496.68 100.87,499.07 101.50,501.10 C102.13,503.13 102.88,505.17 103.50,507.20 C104.12,509.23 104.72,511.27 105.25,513.30 C105.78,515.33 106.31,517.87 106.65,519.40 C106.99,520.93 107.13,521.48 107.30,522.50 C107.47,523.52 107.53,524.25 107.65,525.50 C107.77,526.75 107.83,528.12 108.00,530.00 C108.17,531.88 108.52,534.53 108.70,536.80 C108.88,539.07 108.98,541.35 109.10,543.60 C109.22,545.85 109.30,548.05 109.40,550.30 C109.50,552.55 109.61,554.83 109.70,557.10 C109.79,559.37 109.90,562.65 109.95,563.90 C110.00,565.15 109.99,564.48 110.00,564.60 L120.60,564.60 C120.61,564.48 120.60,565.15 120.65,563.90 C120.70,562.65 120.81,559.37 120.90,557.10 C120.99,554.83 121.10,552.55 121.20,550.30 C121.30,548.05 121.38,545.85 121.50,543.60 C121.62,541.35 121.72,539.07 121.90,536.80 C122.08,534.53 122.42,531.88 122.60,530.00 C122.77,528.12 122.83,526.75 122.95,525.50 C123.07,524.25 123.13,523.52 123.30,522.50 C123.47,521.48 123.61,520.93 123.95,519.40 C124.29,517.87 124.82,515.33 125.35,513.30 C125.88,511.27 126.47,509.23 127.10,507.20 C127.72,505.17 128.47,503.13 129.10,501.10 C129.73,499.07 130.38,496.68 130.90,495.00 C131.42,493.32 131.72,492.77 132.20,491.00 C132.68,489.23 133.22,486.60 133.80,484.40 C134.38,482.20 134.93,480.00 135.70,477.80 C136.47,475.60 137.43,473.33 138.40,471.20 C139.37,469.07 140.55,466.87 141.50,465.00 C142.45,463.13 143.15,461.67 144.10,460.00 C145.05,458.33 146.02,456.67 147.20,455.00 C148.38,453.33 149.88,451.67 151.20,450.00 C152.52,448.33 153.75,446.67 155.10,445.00 C156.45,443.33 157.95,441.67 159.30,440.00 C160.65,438.33 162.00,436.67 163.20,435.00 C164.40,433.33 165.55,431.67 166.50,430.00 C167.45,428.33 168.23,426.67 168.90,425.00 C169.57,423.33 170.27,421.67 170.50,420.00 C170.73,418.33 170.48,416.67 170.30,415.00 C170.12,413.33 169.92,411.67 169.40,410.00 C168.88,408.33 168.37,406.67 167.20,405.00 C166.03,403.33 163.95,401.67 162.40,400.00 C160.85,398.33 159.42,396.67 157.90,395.00 C156.38,393.33 154.83,391.67 153.30,390.00 C151.77,388.33 150.25,386.67 148.70,385.00 C147.15,383.33 145.68,381.67 144.00,380.00 C142.32,378.33 140.25,376.67 138.60,375.00 C136.95,373.33 135.43,371.67 134.10,370.00 C132.77,368.33 131.65,366.67 130.60,365.00 C129.55,363.33 128.75,361.67 127.80,360.00 C126.85,358.33 125.62,356.25 124.90,355.00 C124.18,353.75 123.73,352.92 123.50,352.50 Z" fill="#7878e9" stroke="#262626" stroke-width="0.65" stroke-opacity="0.60"/>
<path d="M252.80,348.30 C252.30,348.85 250.93,350.50 249.80,351.60 C248.67,352.70 247.25,353.80 246.00,354.90 C244.75,356.00 243.48,357.10 242.30,358.20 C241.12,359.30 240.02,360.40 238.90,361.50 C237.78,362.60 236.68,363.70 235.60,364.80 C234.52,365.90 233.45,367.00 232.40,368.10 C231.35,369.20 230.28,370.30 229.30,371.40 C228.32,372.50 227.30,373.68 226.50,374.70 C225.70,375.72 225.07,376.62 224.50,377.50 C223.93,378.38 223.98,378.48 223.10,380.00 C222.22,381.52 220.50,384.10 219.20,386.60 C217.90,389.10 216.47,392.80 215.30,395.00 C214.13,397.20 213.20,397.90 212.20,399.80 C211.20,401.70 210.18,404.20 209.30,406.40 C208.42,408.60 207.40,411.07 206.90,413.00 C206.40,414.93 206.35,416.78 206.30,418.00 C206.25,419.22 206.35,419.37 206.60,420.30 C206.85,421.23 207.33,422.32 207.80,423.60 C208.27,424.88 208.45,426.43 209.40,428.00 C210.35,429.57 211.82,431.33 213.50,433.00 C215.18,434.67 217.57,436.33 219.50,438.00 C221.43,439.67 223.05,441.33 225.10,443.00 C227.15,444.67 229.78,446.33 231.80,448.00 C233.82,449.67 235.50,451.33 237.20,453.00 C238.90,454.67 240.43,456.33 242.00,458.00 C243.57,459.67 245.30,461.67 246.60,463.00 C247.90,464.33 248.65,464.67 249.80,466.00 C250.95,467.33 252.30,469.33 253.50,471.00 C254.70,472.67 255.97,474.33 257.00,476.00 C258.03,477.67 258.97,479.33 259.70,481.00 C260.43,482.67 260.93,484.50 261.40,486.00 C261.87,487.50 262.28,488.20 262.50,490.00 C262.72,491.80 262.70,494.53 262.70,496.80 C262.70,499.07 262.56,501.35 262.50,503.60 C262.44,505.85 262.35,508.05 262.35,510.30 C262.35,512.55 262.38,515.07 262.50,517.10 C262.62,519.13 262.87,520.97 263.05,522.50 C263.23,524.03 263.51,525.67 263.60,526.30 L270.60,526.30 C270.69,525.67 270.97,524.03 271.15,522.50 C271.33,520.97 271.58,519.13 271.70,517.10 C271.82,515.07 271.85,512.55 271.85,510.30 C271.85,508.05 271.76,505.85 271.70,503.60 C271.64,501.35 271.50,499.07 271.50,496.80 C271.50,494.53 271.48,491.80 271.70,490.00 C271.92,488.20 272.33,487.50 272.80,486.00 C273.27,484.50 273.77,482.67 274.50,481.00 C275.23,479.33 276.17,477.67 277.20,476.00 C278.23,474.33 279.50,472.67 280.70,471.00 C281.90,469.33 283.25,467.33 284.40,466.00 C285.55,464.67 286.30,464.33 287.60,463.00 C288.90,461.67 290.63,459.67 292.20,458.00 C293.77,456.33 295.30,454.67 297.00,453.00 C298.70,451.33 300.38,449.67 302.40,448.00 C304.42,446.33 307.05,444.67 309.10,443.00 C311.15,441.33 312.77,439.67 314.70,438.00 C316.63,436.33 319.02,434.67 320.70,433.00 C322.38,431.33 323.85,429.57 324.80,428.00 C325.75,426.43 325.93,424.88 326.40,423.60 C326.87,422.32 327.35,421.23 327.60,420.30 C327.85,419.37 327.95,419.22 327.90,418.00 C327.85,416.78 327.80,414.93 327.30,413.00 C326.80,411.07 325.78,408.60 324.90,406.40 C324.02,404.20 323.00,401.70 322.00,399.80 C321.00,397.90 320.07,397.20 318.90,395.00 C317.73,392.80 316.30,389.10 315.00,386.60 C313.70,384.10 311.98,381.52 311.10,380.00 C310.22,378.48 310.27,378.38 309.70,377.50 C309.13,376.62 308.50,375.72 307.70,374.70 C306.90,373.68 305.88,372.50 304.90,371.40 C303.92,370.30 302.85,369.20 301.80,368.10 C300.75,367.00 299.68,365.90 298.60,364.80 C297.52,363.70 296.42,362.60 295.30,361.50 C294.18,360.40 293.08,359.30 291.90,358.20 C290.72,357.10 289.45,356.00 288.20,354.90 C286.95,353.80 285.53,352.70 284.40,351.60 C283.27,350.50 281.90,348.85 281.40,348.30 Z" fill="#e97878" stroke="#262626" stroke-width="0.65" stroke-opacity="0.60"/>
<line x1="115.30" y1="352.50" x2="115.30" y2="405.30" stroke="#262626" stroke-width="0.95" stroke-opacity="0.50"/>
<line x1="115.30" y1="459.00" x2="115.30" y2="522.50" stroke="#262626" stroke-width="0.95" stroke-opacity="0.50"/>
<line x1="107.50" y1="352.50" x2="123.10" y2="352.50" stroke="#262626" stroke-width="0.90" stroke-opacity="0.45"/>
<line x1="107.50" y1="522.50" x2="123.10" y2="522.50" stroke="#262626" stroke-width="0.90" stroke-opacity="0.45"/>
<rect x="99.90" y="405.30" width="30.70" height="53.70" fill="#2541c8" stroke="#1a2a90" stroke-width="0.70"/>
<line x1="99.90" y1="426.30" x2="130.60" y2="426.30" stroke="#000" stroke-width="1.80"/>
<line x1="267.20" y1="348.30" x2="267.20" y2="386.30" stroke="#262626" stroke-width="0.95" stroke-opacity="0.50"/>
<line x1="267.20" y1="433.50" x2="267.20" y2="473.30" stroke="#262626" stroke-width="0.95" stroke-opacity="0.50"/>
<line x1="259.40" y1="348.30" x2="275.00" y2="348.30" stroke="#262626" stroke-width="0.90" stroke-opacity="0.45"/>
<line x1="259.40" y1="473.30" x2="275.00" y2="473.30" stroke="#262626" stroke-width="0.90" stroke-opacity="0.45"/>
<rect x="251.80" y="386.30" width="30.80" height="47.20" fill="#de4422" stroke="#902a14" stroke-width="0.70"/>
<line x1="251.80" y1="413.30" x2="282.60" y2="413.30" stroke="#000" stroke-width="1.80"/>
<circle cx="115.2" cy="543.4" r="1.3" fill="#4a4a60"/>
<circle cx="115.2" cy="560.8" r="1.3" fill="#4a4a60"/>
<circle cx="267.1" cy="506.6" r="1.3" fill="#4a4a60"/>
<circle cx="267.1" cy="511.4" r="1.3" fill="#4a4a60"/>
<circle cx="110.0" cy="352.4" r="1.30" fill="#0a0a0a"/>
<circle cx="111.0" cy="363.6" r="1.30" fill="#0a0a0a"/>
<circle cx="116.4" cy="370.6" r="1.30" fill="#0a0a0a"/>
<circle cx="101.0" cy="372.4" r="1.30" fill="#0a0a0a"/>
<circle cx="127.4" cy="376.0" r="1.30" fill="#0a0a0a"/>
<circle cx="104.0" cy="381.6" r="1.30" fill="#0a0a0a"/>
<circle cx="100.0" cy="385.6" r="1.30" fill="#0a0a0a"/>
<circle cx="102.2" cy="387.6" r="1.30" fill="#0a0a0a"/>
<circle cx="117.4" cy="386.4" r="1.30" fill="#0a0a0a"/>
<circle cx="122.0" cy="389.2" r="1.30" fill="#0a0a0a"/>
<circle cx="123.6" cy="388.6" r="1.30" fill="#0a0a0a"/>
<circle cx="127.0" cy="385.0" r="1.30" fill="#0a0a0a"/>
<circle cx="111.0" cy="392.0" r="1.30" fill="#0a0a0a"/>
<circle cx="125.0" cy="394.4" r="1.30" fill="#0a0a0a"/>
<circle cx="102.0" cy="397.6" r="1.30" fill="#0a0a0a"/>
<circle cx="102.4" cy="398.4" r="1.30" fill="#0a0a0a"/>
<circle cx="119.0" cy="400.6" r="1.30" fill="#0a0a0a"/>
<circle cx="126.2" cy="400.0" r="1.30" fill="#0a0a0a"/>
<circle cx="113.0" cy="403.0" r="1.30" fill="#0a0a0a"/>
<circle cx="101.0" cy="404.6" r="1.30" fill="#0a0a0a"/>
<circle cx="108.0" cy="406.0" r="1.30" fill="#0a0a0a"/>
<circle cx="117.0" cy="405.0" r="1.30" fill="#0a0a0a"/>
<circle cx="105.0" cy="410.0" r="1.30" fill="#0a0a0a"/>
<circle cx="112.0" cy="408.0" r="1.30" fill="#0a0a0a"/>
<circle cx="101.0" cy="411.0" r="1.30" fill="#0a0a0a"/>
<circle cx="114.0" cy="413.0" r="1.30" fill="#0a0a0a"/>
<circle cx="116.6" cy="414.4" r="1.30" fill="#0a0a0a"/>
<circle cx="120.6" cy="412.0" r="1.30" fill="#0a0a0a"/>
<circle cx="128.0" cy="411.0" r="1.30" fill="#0a0a0a"/>
<circle cx="128.4" cy="416.4" r="1.30" fill="#0a0a0a"/>
<circle cx="107.0" cy="419.0" r="1.30" fill="#0a0a0a"/>
<circle cx="113.0" cy="418.0" r="1.30" fill="#0a0a0a"/>
<circle cx="118.0" cy="422.0" r="1.30" fill="#0a0a0a"/>
<circle cx="121.0" cy="418.0" r="1.30" fill="#0a0a0a"/>
<circle cx="102.0" cy="419.6" r="1.30" fill="#0a0a0a"/>
<circle cx="114.0" cy="426.0" r="1.30" fill="#0a0a0a"/>
<circle cx="105.4" cy="429.6" r="1.30" fill="#0a0a0a"/>
<circle cx="119.4" cy="428.0" r="1.30" fill="#0a0a0a"/>
<circle cx="113.0" cy="431.0" r="1.30" fill="#0a0a0a"/>
<circle cx="118.4" cy="432.4" r="1.30" fill="#0a0a0a"/>
<circle cx="126.0" cy="434.0" r="1.30" fill="#0a0a0a"/>
<circle cx="128.0" cy="433.6" r="1.30" fill="#0a0a0a"/>
<circle cx="106.6" cy="437.0" r="1.30" fill="#0a0a0a"/>
<circle cx="104.0" cy="439.0" r="1.30" fill="#0a0a0a"/>
<circle cx="116.0" cy="440.0" r="1.30" fill="#0a0a0a"/>
<circle cx="117.4" cy="440.4" r="1.30" fill="#0a0a0a"/>
<circle cx="100.0" cy="442.6" r="1.30" fill="#0a0a0a"/>
<circle cx="113.0" cy="445.4" r="1.30" fill="#0a0a0a"/>
<circle cx="113.6" cy="450.0" r="1.30" fill="#0a0a0a"/>
<circle cx="119.4" cy="449.6" r="1.30" fill="#0a0a0a"/>
<circle cx="108.0" cy="456.6" r="1.30" fill="#0a0a0a"/>
<circle cx="108.0" cy="457.0" r="1.30" fill="#0a0a0a"/>
<circle cx="101.0" cy="459.0" r="1.30" fill="#0a0a0a"/>
<circle cx="125.6" cy="461.0" r="1.30" fill="#0a0a0a"/>
<circle cx="105.6" cy="469.6" r="1.30" fill="#0a0a0a"/>
<circle cx="102.0" cy="472.6" r="1.30" fill="#0a0a0a"/>
<circle cx="125.0" cy="469.4" r="1.30" fill="#0a0a0a"/>
<circle cx="126.6" cy="471.6" r="1.30" fill="#0a0a0a"/>
<circle cx="118.4" cy="475.0" r="1.30" fill="#0a0a0a"/>
<circle cx="124.0" cy="477.4" r="1.30" fill="#0a0a0a"/>
<circle cx="105.0" cy="486.0" r="1.30" fill="#0a0a0a"/>
<circle cx="105.4" cy="489.4" r="1.30" fill="#0a0a0a"/>
<circle cx="117.0" cy="487.0" r="1.30" fill="#0a0a0a"/>
<circle cx="116.0" cy="494.0" r="1.30" fill="#0a0a0a"/>
<circle cx="117.6" cy="501.6" r="1.30" fill="#0a0a0a"/>
<circle cx="104.4" cy="507.0" r="1.30" fill="#0a0a0a"/>
<circle cx="102.6" cy="510.4" r="1.30" fill="#0a0a0a"/>
<circle cx="111.4" cy="515.4" r="1.30" fill="#0a0a0a"/>
<circle cx="100.0" cy="522.4" r="1.30" fill="#0a0a0a"/>
<circle cx="104.0" cy="543.2" r="1.30" fill="#0a0a0a"/>
<circle cx="108.4" cy="561.0" r="1.30" fill="#0a0a0a"/>
<circle cx="115.0" cy="564.4" r="1.30" fill="#0a0a0a"/>
<circle cx="115.4" cy="565.0" r="1.30" fill="#0a0a0a"/>
<circle cx="126.4" cy="564.6" r="1.30" fill="#0a0a0a"/>
<circle cx="265.4" cy="348.4" r="1.30" fill="#0a0a0a"/>
<circle cx="256.4" cy="356.6" r="1.30" fill="#0a0a0a"/>
<circle cx="276.0" cy="355.0" r="1.30" fill="#0a0a0a"/>
<circle cx="267.4" cy="360.0" r="1.30" fill="#0a0a0a"/>
<circle cx="271.4" cy="363.0" r="1.30" fill="#0a0a0a"/>
<circle cx="261.0" cy="365.0" r="1.30" fill="#0a0a0a"/>
<circle cx="267.4" cy="365.0" r="1.30" fill="#0a0a0a"/>
<circle cx="277.4" cy="365.0" r="1.30" fill="#0a0a0a"/>
<circle cx="279.6" cy="364.0" r="1.30" fill="#0a0a0a"/>
<circle cx="253.6" cy="369.6" r="1.30" fill="#0a0a0a"/>
<circle cx="272.0" cy="373.0" r="1.30" fill="#0a0a0a"/>
<circle cx="276.4" cy="372.0" r="1.30" fill="#0a0a0a"/>
<circle cx="276.6" cy="373.6" r="1.30" fill="#0a0a0a"/>
<circle cx="277.0" cy="377.6" r="1.30" fill="#0a0a0a"/>
<circle cx="256.0" cy="379.6" r="1.30" fill="#0a0a0a"/>
<circle cx="257.6" cy="379.0" r="1.30" fill="#0a0a0a"/>
<circle cx="252.0" cy="382.6" r="1.30" fill="#0a0a0a"/>
<circle cx="254.4" cy="381.0" r="1.30" fill="#0a0a0a"/>
<circle cx="269.0" cy="382.4" r="1.30" fill="#0a0a0a"/>
<circle cx="271.0" cy="384.0" r="1.30" fill="#0a0a0a"/>
<circle cx="273.0" cy="383.6" r="1.30" fill="#0a0a0a"/>
<circle cx="277.6" cy="384.0" r="1.30" fill="#0a0a0a"/>
<circle cx="280.0" cy="386.6" r="1.30" fill="#0a0a0a"/>
<circle cx="275.0" cy="386.0" r="1.30" fill="#0a0a0a"/>
<circle cx="253.0" cy="393.0" r="1.30" fill="#0a0a0a"/>
<circle cx="260.0" cy="392.6" r="1.30" fill="#0a0a0a"/>
<circle cx="262.4" cy="393.0" r="1.30" fill="#0a0a0a"/>
<circle cx="270.0" cy="393.0" r="1.30" fill="#0a0a0a"/>
<circle cx="272.4" cy="393.6" r="1.30" fill="#0a0a0a"/>
<circle cx="268.6" cy="395.6" r="1.30" fill="#0a0a0a"/>
<circle cx="266.4" cy="398.0" r="1.30" fill="#0a0a0a"/>
<circle cx="275.0" cy="397.6" r="1.30" fill="#0a0a0a"/>
<circle cx="263.6" cy="401.0" r="1.30" fill="#0a0a0a"/>
<circle cx="278.6" cy="401.0" r="1.30" fill="#0a0a0a"/>
<circle cx="255.0" cy="406.4" r="1.30" fill="#0a0a0a"/>
<circle cx="262.0" cy="407.4" r="1.30" fill="#0a0a0a"/>
<circle cx="269.4" cy="406.4" r="1.30" fill="#0a0a0a"/>
<circle cx="273.0" cy="406.4" r="1.30" fill="#0a0a0a"/>
<circle cx="278.0" cy="405.6" r="1.30" fill="#0a0a0a"/>
<circle cx="254.6" cy="409.0" r="1.30" fill="#0a0a0a"/>
<circle cx="272.0" cy="411.0" r="1.30" fill="#0a0a0a"/>
<circle cx="257.0" cy="413.0" r="1.30" fill="#0a0a0a"/>
<circle cx="273.6" cy="413.6" r="1.30" fill="#0a0a0a"/>
<circle cx="252.0" cy="418.0" r="1.30" fill="#0a0a0a"/>
<circle cx="256.0" cy="418.0" r="1.30" fill="#0a0a0a"/>
<circle cx="257.2" cy="418.6" r="1.30" fill="#0a0a0a"/>
<circle cx="269.0" cy="418.0" r="1.30" fill="#0a0a0a"/>
<circle cx="273.0" cy="417.4" r="1.30" fill="#0a0a0a"/>
<circle cx="261.0" cy="422.0" r="1.30" fill="#0a0a0a"/>
<circle cx="262.0" cy="423.0" r="1.30" fill="#0a0a0a"/>
<circle cx="269.4" cy="421.6" r="1.30" fill="#0a0a0a"/>
<circle cx="275.4" cy="424.0" r="1.30" fill="#0a0a0a"/>
<circle cx="254.0" cy="426.0" r="1.30" fill="#0a0a0a"/>
<circle cx="256.0" cy="425.6" r="1.30" fill="#0a0a0a"/>
<circle cx="271.0" cy="428.0" r="1.30" fill="#0a0a0a"/>
<circle cx="268.6" cy="429.4" r="1.30" fill="#0a0a0a"/>
<circle cx="257.0" cy="430.0" r="1.30" fill="#0a0a0a"/>
<circle cx="257.6" cy="432.0" r="1.30" fill="#0a0a0a"/>
<circle cx="259.0" cy="436.0" r="1.30" fill="#0a0a0a"/>
<circle cx="265.4" cy="434.4" r="1.30" fill="#0a0a0a"/>
<circle cx="275.6" cy="433.6" r="1.30" fill="#0a0a0a"/>
<circle cx="271.6" cy="438.0" r="1.30" fill="#0a0a0a"/>
<circle cx="276.0" cy="439.0" r="1.30" fill="#0a0a0a"/>
<circle cx="267.0" cy="443.6" r="1.30" fill="#0a0a0a"/>
<circle cx="259.0" cy="447.0" r="1.30" fill="#0a0a0a"/>
<circle cx="262.0" cy="447.0" r="1.30" fill="#0a0a0a"/>
<circle cx="274.0" cy="446.4" r="1.30" fill="#0a0a0a"/>
<circle cx="267.0" cy="443.4" r="1.30" fill="#0a0a0a"/>
<circle cx="259.4" cy="447.4" r="1.30" fill="#0a0a0a"/>
<circle cx="262.4" cy="447.4" r="1.30" fill="#0a0a0a"/>
<circle cx="274.6" cy="446.6" r="1.30" fill="#0a0a0a"/>
<circle cx="275.6" cy="451.0" r="1.30" fill="#0a0a0a"/>
<circle cx="268.4" cy="453.6" r="1.30" fill="#0a0a0a"/>
<circle cx="278.0" cy="456.0" r="1.30" fill="#0a0a0a"/>
<circle cx="259.4" cy="459.2" r="1.30" fill="#0a0a0a"/>
<circle cx="272.0" cy="461.0" r="1.30" fill="#0a0a0a"/>
<circle cx="266.0" cy="466.0" r="1.30" fill="#0a0a0a"/>
<circle cx="276.0" cy="470.6" r="1.30" fill="#0a0a0a"/>
<circle cx="266.4" cy="473.0" r="1.30" fill="#0a0a0a"/>
<circle cx="279.4" cy="506.6" r="1.30" fill="#0a0a0a"/>
<circle cx="263.6" cy="511.0" r="1.30" fill="#0a0a0a"/>
<circle cx="252.0" cy="526.0" r="1.30" fill="#0a0a0a"/>
<circle cx="267.0" cy="526.0" r="1.30" fill="#0a0a0a"/>
<rect x="39.50" y="332.00" width="303.50" height="243.50" fill="none" stroke="#888" stroke-width="1"/>
<line x1="37.70" y1="563.00" x2="39.50" y2="563.00" stroke="#888" stroke-width="0.8"/>
<line x1="37.70" y1="527.60" x2="39.50" y2="527.60" stroke="#888" stroke-width="0.8"/>
<line x1="37.70" y1="492.10" x2="39.50" y2="492.10" stroke="#888" stroke-width="0.8"/>
<line x1="37.70" y1="456.70" x2="39.50" y2="456.70" stroke="#888" stroke-width="0.8"/>
<line x1="37.70" y1="421.30" x2="39.50" y2="421.30" stroke="#888" stroke-width="0.8"/>
<line x1="37.70" y1="385.80" x2="39.50" y2="385.80" stroke="#888" stroke-width="0.8"/>
<line x1="37.70" y1="350.40" x2="39.50" y2="350.40" stroke="#888" stroke-width="0.8"/>
<line x1="115.30" y1="575.50" x2="115.30" y2="577.50" stroke="#888" stroke-width="0.8"/>
<line x1="267.10" y1="575.50" x2="267.10" y2="577.50" stroke="#888" stroke-width="0.8"/>
<path d="M115.30,346.00 L115.30,343.00 L267.10,343.00 L267.10,346.00" fill="none" stroke="#333" stroke-width="1.10"/>
<g style="will-change:transform">
<text x="342.90" y="9.80" text-anchor="middle" font-size="11.80" font-weight="bold" textLength="208.00" lengthAdjust="spacingAndGlyphs" style="fill:#000">Isoprene emissions (dry leaves)</text>
<text x="8.90" y="34.00" font-size="11.60" font-weight="bold" textLength="9.20" lengthAdjust="spacingAndGlyphs" style="fill:#000">A</text>
<text x="348.10" y="34.00" font-size="11.60" font-weight="bold" textLength="8.00" lengthAdjust="spacingAndGlyphs" style="fill:#000">B</text>
<text x="9.00" y="316.40" font-size="11.60" font-weight="bold" textLength="8.60" lengthAdjust="spacingAndGlyphs" style="fill:#000">C</text>
<text x="35.90" y="282.00" font-size="10.20" text-anchor="end" textLength="20.90" lengthAdjust="spacingAndGlyphs">0.04</text>
<text x="35.90" y="253.50" font-size="10.20" text-anchor="end" textLength="20.90" lengthAdjust="spacingAndGlyphs">0.06</text>
<text x="35.90" y="225.00" font-size="10.20" text-anchor="end" textLength="20.90" lengthAdjust="spacingAndGlyphs">0.08</text>
<text x="35.90" y="196.50" font-size="10.20" text-anchor="end" textLength="20.90" lengthAdjust="spacingAndGlyphs">0.10</text>
<text x="35.90" y="168.00" font-size="10.20" text-anchor="end" textLength="20.90" lengthAdjust="spacingAndGlyphs">0.12</text>
<text x="35.90" y="139.50" font-size="10.20" text-anchor="end" textLength="20.90" lengthAdjust="spacingAndGlyphs">0.14</text>
<text x="35.90" y="111.00" font-size="10.20" text-anchor="end" textLength="20.90" lengthAdjust="spacingAndGlyphs">0.16</text>
<text x="35.90" y="82.50" font-size="10.20" text-anchor="end" textLength="20.90" lengthAdjust="spacingAndGlyphs">0.18</text>
<text x="35.90" y="54.00" font-size="10.20" text-anchor="end" textLength="20.90" lengthAdjust="spacingAndGlyphs">0.20</text>
<text x="115.30" y="305.10" font-size="10.90" text-anchor="middle" textLength="63.80" lengthAdjust="spacingAndGlyphs">Non-emitter</text>
<text x="267.10" y="305.10" font-size="10.90" text-anchor="middle" textLength="40.00" lengthAdjust="spacingAndGlyphs">Emitter</text>
<text x="0" y="0" font-size="10.80" text-anchor="middle" textLength="121.60" lengthAdjust="spacingAndGlyphs" transform="translate(11.10,171.50) rotate(-90)">Reflectance at 499 nm</text>
<text x="190.90" y="57.20" font-size="8.40" text-anchor="middle" textLength="43.20" lengthAdjust="spacingAndGlyphs">p = 0.001</text>
<text x="374.90" y="296.90" font-size="10.20" text-anchor="end" textLength="15.80" lengthAdjust="spacingAndGlyphs">0.2</text>
<text x="374.90" y="259.10" font-size="10.20" text-anchor="end" textLength="15.80" lengthAdjust="spacingAndGlyphs">0.3</text>
<text x="374.90" y="221.30" font-size="10.20" text-anchor="end" textLength="15.80" lengthAdjust="spacingAndGlyphs">0.4</text>
<text x="374.90" y="183.50" font-size="10.20" text-anchor="end" textLength="15.80" lengthAdjust="spacingAndGlyphs">0.5</text>
<text x="374.90" y="145.70" font-size="10.20" text-anchor="end" textLength="15.80" lengthAdjust="spacingAndGlyphs">0.6</text>
<text x="374.90" y="107.90" font-size="10.20" text-anchor="end" textLength="15.80" lengthAdjust="spacingAndGlyphs">0.7</text>
<text x="374.90" y="70.10" font-size="10.20" text-anchor="end" textLength="15.80" lengthAdjust="spacingAndGlyphs">0.8</text>
<text x="454.10" y="305.10" font-size="10.90" text-anchor="middle" textLength="63.80" lengthAdjust="spacingAndGlyphs">Non-emitter</text>
<text x="606.00" y="305.10" font-size="10.90" text-anchor="middle" textLength="40.00" lengthAdjust="spacingAndGlyphs">Emitter</text>
<text x="0" y="0" font-size="10.80" text-anchor="middle" textLength="120.80" lengthAdjust="spacingAndGlyphs" transform="translate(356.00,171.50) rotate(-90)">Reflectance at 835 nm</text>
<text x="529.75" y="57.20" font-size="8.40" text-anchor="middle" textLength="43.20" lengthAdjust="spacingAndGlyphs">p = 0.007</text>
<text x="35.90" y="567.50" font-size="10.20" text-anchor="end" textLength="20.90" lengthAdjust="spacingAndGlyphs">0.60</text>
<text x="35.90" y="532.10" font-size="10.20" text-anchor="end" textLength="20.90" lengthAdjust="spacingAndGlyphs">0.65</text>
<text x="35.90" y="496.60" font-size="10.20" text-anchor="end" textLength="20.90" lengthAdjust="spacingAndGlyphs">0.70</text>
<text x="35.90" y="461.20" font-size="10.20" text-anchor="end" textLength="20.90" lengthAdjust="spacingAndGlyphs">0.75</text>
<text x="35.90" y="425.80" font-size="10.20" text-anchor="end" textLength="20.90" lengthAdjust="spacingAndGlyphs">0.80</text>
<text x="35.90" y="390.30" font-size="10.20" text-anchor="end" textLength="20.90" lengthAdjust="spacingAndGlyphs">0.85</text>
<text x="35.90" y="354.90" font-size="10.20" text-anchor="end" textLength="20.90" lengthAdjust="spacingAndGlyphs">0.90</text>
<text x="115.30" y="587.10" font-size="10.90" text-anchor="middle" textLength="63.80" lengthAdjust="spacingAndGlyphs">Non-emitter</text>
<text x="267.10" y="587.10" font-size="10.90" text-anchor="middle" textLength="40.00" lengthAdjust="spacingAndGlyphs">Emitter</text>
<text x="0" y="0" font-size="10.80" text-anchor="middle" textLength="128.00" lengthAdjust="spacingAndGlyphs" transform="translate(10.90,453.75) rotate(-90)">Reflectance at 1126 nm</text>
<text x="190.90" y="339.70" font-size="8.40" text-anchor="middle" textLength="43.20" lengthAdjust="spacingAndGlyphs">p = 0.003</text>
</g>
</svg></body></html>
